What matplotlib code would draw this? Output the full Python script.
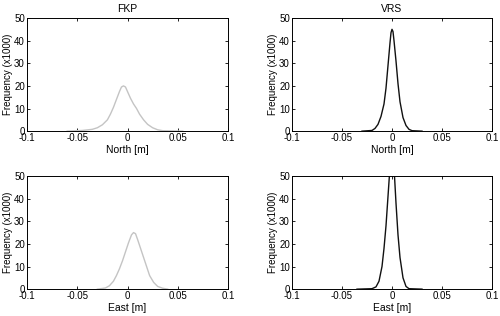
import matplotlib
matplotlib.use("Agg")
import matplotlib.pyplot as plt

plt.rcParams['font.family'] = ['Liberation Sans', 'DejaVu Sans']

# FKP North
fkp_n_x = [-0.06, -0.045, -0.035, -0.03, -0.025, -0.02, -0.017, -0.014, -0.011, -0.008, -0.006, -0.004,
           -0.002, 0.0, 0.003, 0.006, 0.009, 0.012, 0.016, 0.02, 0.025, 0.03, 0.035, 0.055]
fkp_n_y = [0, 0.3, 0.8, 1.5, 2.8, 5, 7.5, 10.5, 14, 17.5, 19.5, 20,
           19.5, 17.5, 14.5, 12, 10, 7.5, 5, 3, 1.5, 0.6, 0.2, 0]
# VRS North
vrs_n_x = [-0.03, -0.02, -0.017, -0.014, -0.011, -0.008, -0.006, -0.004, -0.002, -0.001, 0.0, 0.001,
           0.002, 0.004, 0.006, 0.008, 0.011, 0.014, 0.017, 0.02, 0.03]
vrs_n_y = [0, 0.3, 1.2, 3, 6.5, 12, 19, 29, 39, 43.5, 45, 44,
           40, 31, 21, 13, 6, 2.5, 0.8, 0.2, 0]
# FKP East
fkp_e_x = [-0.03, -0.022, -0.018, -0.014, -0.011, -0.008, -0.005, -0.002, 0.001, 0.004, 0.006, 0.008,
           0.01, 0.013, 0.016, 0.019, 0.022, 0.026, 0.03, 0.035, 0.04]
fkp_e_y = [0, 0.5, 1.5, 3.5, 6, 9, 12.5, 16.5, 20.5, 24, 25, 24.5,
           22, 18, 14, 10, 6, 3, 1.2, 0.4, 0]
# VRS East
vrs_e_x = [-0.035, -0.02, -0.016, -0.013, -0.01, -0.008, -0.006, -0.004, -0.002, 0.0, 0.002, 0.004,
           0.006, 0.008, 0.011, 0.014, 0.017, 0.03]
vrs_e_y = [0, 0.2, 1, 3.5, 10, 18, 28, 41, 54, 60, 54, 38,
           24, 14, 5, 1.2, 0.2, 0]

panels = [
    (fkp_n_x, fkp_n_y, "#c4c4c4", "FKP", "North [m]", [0.054, 0.585, 0.402, 0.358]),
    (vrs_n_x, vrs_n_y, "#111111", "VRS", "North [m]", [0.584, 0.585, 0.400, 0.358]),
    (fkp_e_x, fkp_e_y, "#c4c4c4", None, "East [m]", [0.054, 0.085, 0.402, 0.358]),
    (vrs_e_x, vrs_e_y, "#111111", None, "East [m]", [0.584, 0.085, 0.400, 0.358]),
]

xticks = [-0.1, -0.05, 0, 0.05, 0.1]
xticklabels = ["-0.1", "-0.05", "0", "0.05", "0.1"]
yticks = [0, 10, 20, 30, 40, 50]

fig = plt.figure(figsize=(5, 3.16), dpi=100)
for x, y, c, title, xlabel, pos in panels:
    ax = fig.add_axes(pos)
    ax.plot(x, y, color=c, lw=1.0)
    ax.set_xlim(-0.1, 0.1)
    ax.set_ylim(0, 50)
    ax.set_xticks(xticks)
    ax.set_xticklabels(xticklabels)
    ax.set_yticks(yticks)
    ax.tick_params(direction='in', top=True, right=True, labelsize=7, length=2.5, pad=1.5, width=0.6)
    for s in ax.spines.values():
        s.set_linewidth(0.7)
    ax.set_xlabel(xlabel, fontsize=7.5, labelpad=1)
    ax.set_ylabel("Frequency (x1000)", fontsize=7, labelpad=1)
    if title:
        ax.set_title(title, fontsize=7.5, pad=4)

fig.savefig("out.png", dpi=100)
